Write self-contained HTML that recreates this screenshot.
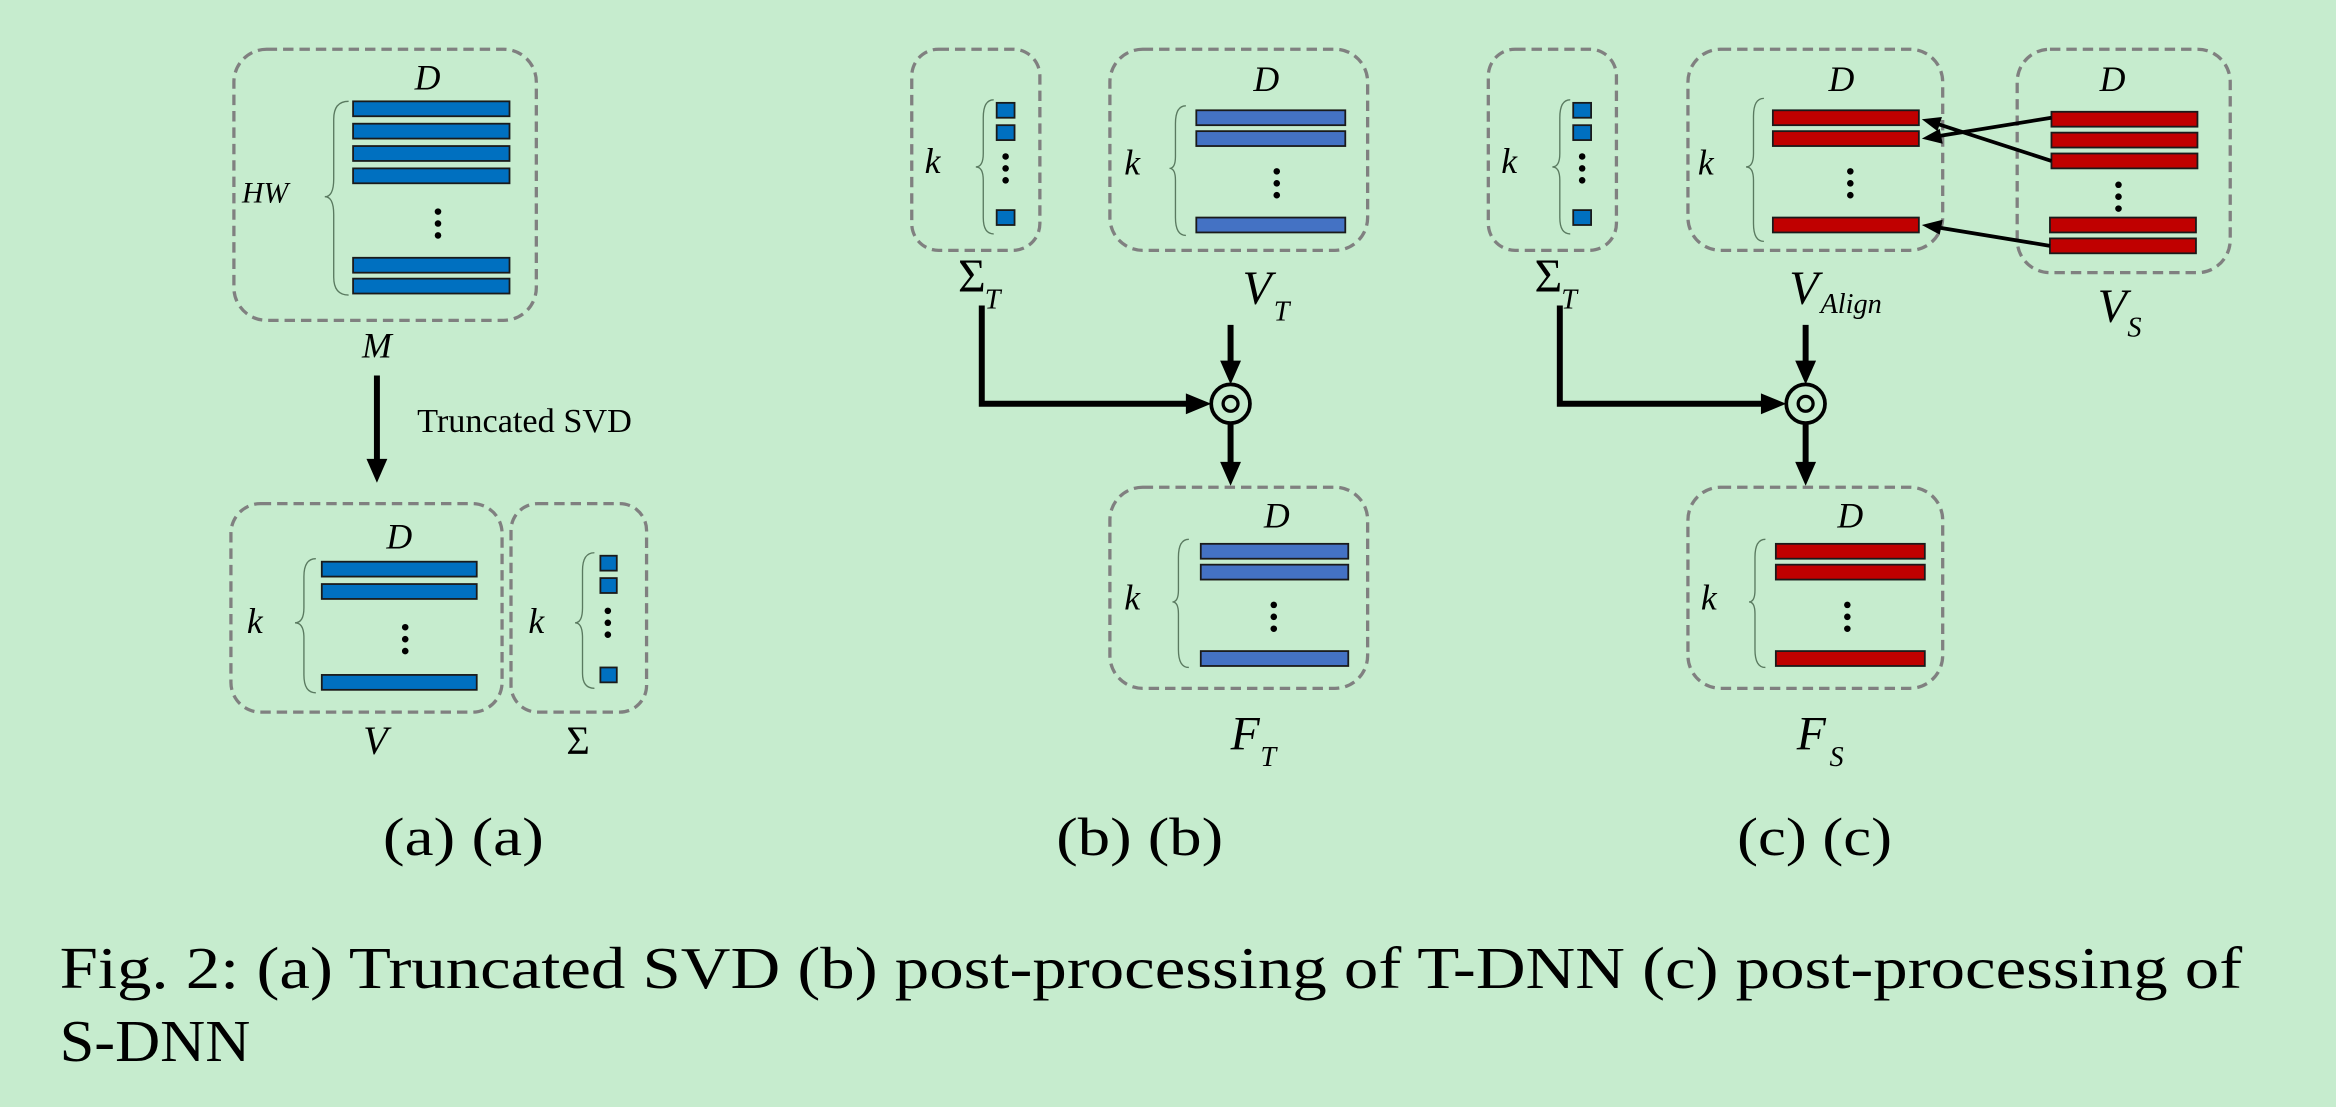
<!DOCTYPE html>
<html><head><meta charset="utf-8"><style>
html,body{margin:0;padding:0;background:#c6ecce;}
svg{display:block;}
text{font-family:"Liberation Serif",serif;fill:#000;}
.it{font-style:italic;}
.box{fill:none;stroke:#808080;stroke-width:2.2;stroke-dasharray:7,4;}
.b1{fill:#0070c0;stroke:#1a1a1a;stroke-width:1.2;}
.b2{fill:#4472c4;stroke:#1a1a1a;stroke-width:1.2;}
.r{fill:#c00000;stroke:#1a1a1a;stroke-width:1.2;}
.br{fill:none;stroke:#5a7a60;stroke-width:0.9;}
.ln{fill:none;stroke:#000;stroke-width:4;}
.thin{fill:none;stroke:#000;stroke-width:2.5;}
</style></head><body>
<svg width="2336" height="1107" viewBox="0 0 1568 743" xmlns="http://www.w3.org/2000/svg">
<rect width="1568" height="743" fill="#c6ecce"/>

<!-- Panel (a) -->
<rect class="box" x="157" y="33" width="203" height="182" rx="22"/>
<text class="it" x="287" y="60" font-size="24" text-anchor="middle">D</text>
<text class="it" x="178" y="136" font-size="20" text-anchor="middle">HW</text>
<path class="br" d="M234,68 Q224,68 224,80 L224,120 Q224,132 218,132 Q224,132 224,144 L224,186 Q224,198 234,198"/>
<rect class="b1" x="237" y="68" width="105" height="10"/>
<rect class="b1" x="237" y="83" width="105" height="10"/>
<rect class="b1" x="237" y="98" width="105" height="10"/>
<rect class="b1" x="237" y="113" width="105" height="10"/>
<circle cx="294" cy="142" r="2.2"/><circle cx="294" cy="150" r="2.2"/><circle cx="294" cy="158" r="2.2"/>
<rect class="b1" x="237" y="173" width="105" height="10"/>
<rect class="b1" x="237" y="187" width="105" height="10"/>
<text class="it" x="253" y="240" font-size="24" text-anchor="middle">M</text>
<line class="ln" x1="253" y1="252" x2="253" y2="310"/>
<polygon points="246,308 260,308 253,324"/>
<text x="280" y="290" font-size="23">Truncated SVD</text>

<rect class="box" x="155" y="338" width="182" height="140" rx="20"/>
<text class="it" x="268" y="368" font-size="24" text-anchor="middle">D</text>
<text class="it" x="171" y="425" font-size="24" text-anchor="middle">k</text>
<path class="br" d="M212,375 Q204,375 204,387 L204,408 Q204,418 198,418 Q204,418 204,428 L204,453 Q204,465 212,465"/>
<rect class="b1" x="216" y="377" width="104" height="10"/>
<rect class="b1" x="216" y="392" width="104" height="10"/>
<circle cx="272" cy="421" r="2.2"/><circle cx="272" cy="429" r="2.2"/><circle cx="272" cy="437" r="2.2"/>
<rect class="b1" x="216" y="453" width="104" height="10"/>
<text class="it" x="252" y="506" font-size="27" text-anchor="middle">V</text>

<rect class="box" x="343" y="338" width="91" height="140" rx="18"/>
<text class="it" x="360" y="425" font-size="24" text-anchor="middle">k</text>
<path class="br" d="M399,371 Q391,371 391,383 L391,408 Q391,418 386,418 Q391,418 391,428 L391,452 Q391,462 399,462"/>
<rect class="b1" x="403" y="373" width="11" height="10"/>
<rect class="b1" x="403" y="388" width="11" height="10"/>
<circle cx="408" cy="410" r="2.2"/><circle cx="408" cy="418" r="2.2"/><circle cx="408" cy="426" r="2.2"/>
<rect class="b1" x="403" y="448" width="11" height="10"/>
<text x="388" y="506" font-size="27" text-anchor="middle">Σ</text>
<text x="257" y="574" font-size="36" textLength="108" lengthAdjust="spacingAndGlyphs">(a) (a)</text>

<!-- Panel (b) -->
<rect class="box" x="612" y="33" width="86" height="135" rx="18"/>
<text class="it" x="626" y="116" font-size="24" text-anchor="middle">k</text>
<path class="br" d="M667,67 Q660,67 660,79 L660,103 Q660,112 655,112 Q660,112 660,121 L660,146 Q660,157 667,157"/>
<rect class="b1" x="669" y="69" width="12" height="10"/>
<rect class="b1" x="669" y="84" width="12" height="10"/>
<circle cx="675" cy="105" r="2.2"/><circle cx="675" cy="113" r="2.2"/><circle cx="675" cy="121" r="2.2"/>
<rect class="b1" x="669" y="141" width="12" height="10"/>
<text x="643" y="196" font-size="32">Σ</text><text class="it" x="661" y="207" font-size="19">T</text>

<rect class="box" x="745" y="33" width="173" height="135" rx="22"/>
<text class="it" x="850" y="61" font-size="24" text-anchor="middle">D</text>
<text class="it" x="760" y="117" font-size="24" text-anchor="middle">k</text>
<path class="br" d="M796,71 Q789,71 789,83 L789,105 Q789,113 785,113 Q789,113 789,121 L789,146 Q789,158 796,158"/>
<rect class="b2" x="803" y="74" width="100" height="10"/>
<rect class="b2" x="803" y="88" width="100" height="10"/>
<circle cx="857" cy="115" r="2.2"/><circle cx="857" cy="123" r="2.2"/><circle cx="857" cy="131" r="2.2"/>
<rect class="b2" x="803" y="146" width="100" height="10"/>
<text class="it" x="834" y="204" font-size="32">V</text><text class="it" x="855" y="215" font-size="19">T</text>

<polyline class="ln" points="659,205 659,271 798,271"/>
<polygon points="796,264 796,278 813,271"/>
<line class="ln" x1="826" y1="218" x2="826" y2="244"/>
<polygon points="819,242 833,242 826,258"/>
<circle cx="826" cy="271" r="13" fill="none" stroke="#000" stroke-width="2.5"/>
<circle cx="826" cy="271" r="5" fill="none" stroke="#000" stroke-width="2.2"/>
<line class="ln" x1="826" y1="284" x2="826" y2="312"/>
<polygon points="819,310 833,310 826,326"/>

<rect class="box" x="745" y="327" width="173" height="135" rx="22"/>
<text class="it" x="857" y="354" font-size="24" text-anchor="middle">D</text>
<text class="it" x="760" y="409" font-size="24" text-anchor="middle">k</text>
<path class="br" d="M798,362 Q791,362 791,374 L791,396 Q791,404 787,404 Q791,404 791,412 L791,436 Q791,448 798,448"/>
<rect class="b2" x="806" y="365" width="99" height="10"/>
<rect class="b2" x="806" y="379" width="99" height="10"/>
<circle cx="855" cy="406" r="2.2"/><circle cx="855" cy="414" r="2.2"/><circle cx="855" cy="422" r="2.2"/>
<rect class="b2" x="806" y="437" width="99" height="10"/>
<text class="it" x="826" y="503" font-size="32">F</text><text class="it" x="846" y="514" font-size="19">T</text>
<text x="709" y="574" font-size="36" textLength="112" lengthAdjust="spacingAndGlyphs">(b) (b)</text>

<!-- Panel (c) -->
<rect class="box" x="999" y="33" width="86" height="135" rx="18"/>
<text class="it" x="1013" y="116" font-size="24" text-anchor="middle">k</text>
<path class="br" d="M1054,67 Q1047,67 1047,79 L1047,103 Q1047,112 1042,112 Q1047,112 1047,121 L1047,146 Q1047,157 1054,157"/>
<rect class="b1" x="1056" y="69" width="12" height="10"/>
<rect class="b1" x="1056" y="84" width="12" height="10"/>
<circle cx="1062" cy="105" r="2.2"/><circle cx="1062" cy="113" r="2.2"/><circle cx="1062" cy="121" r="2.2"/>
<rect class="b1" x="1056" y="141" width="12" height="10"/>
<text x="1030" y="196" font-size="32">Σ</text><text class="it" x="1048" y="207" font-size="19">T</text>

<rect class="box" x="1133" y="33" width="171" height="135" rx="22"/>
<text class="it" x="1236" y="61" font-size="24" text-anchor="middle">D</text>
<text class="it" x="1145" y="117" font-size="24" text-anchor="middle">k</text>
<path class="br" d="M1184,66 Q1177,66 1177,78 L1177,103 Q1177,112 1172,112 Q1177,112 1177,121 L1177,150 Q1177,162 1184,162"/>
<rect class="r" x="1190" y="74" width="98" height="10"/>
<rect class="r" x="1190" y="88" width="98" height="10"/>
<circle cx="1242" cy="115" r="2.2"/><circle cx="1242" cy="123" r="2.2"/><circle cx="1242" cy="131" r="2.2"/>
<rect class="r" x="1190" y="146" width="98" height="10"/>
<text class="it" x="1201" y="204" font-size="32">V</text><text class="it" x="1222" y="210" font-size="19">Align</text>

<rect class="box" x="1354" y="33" width="143" height="150" rx="22"/>
<text class="it" x="1418" y="61" font-size="24" text-anchor="middle">D</text>
<rect class="r" x="1377" y="75" width="98" height="10"/>
<rect class="r" x="1377" y="89" width="98" height="10"/>
<rect class="r" x="1377" y="103" width="98" height="10"/>
<circle cx="1422" cy="124" r="2.2"/><circle cx="1422" cy="132" r="2.2"/><circle cx="1422" cy="140" r="2.2"/>
<rect class="r" x="1376" y="146" width="98" height="10"/>
<rect class="r" x="1376" y="160" width="98" height="10"/>
<text class="it" x="1408" y="216" font-size="32">V</text><text class="it" x="1428" y="226" font-size="19">S</text>

<line class="thin" x1="1377" y1="79" x2="1300" y2="91.5"/>
<polygon points="1290,93 1302,86.5 1304,96.5"/>
<line class="thin" x1="1377" y1="108" x2="1300" y2="83"/>
<polygon points="1290,80 1303.5,78.5 1300.5,88"/>
<line class="thin" x1="1376" y1="165" x2="1300" y2="152.5"/>
<polygon points="1290,151 1304,147.5 1302,157.5"/>

<polyline class="ln" points="1047,205 1047,271 1184,271"/>
<polygon points="1182,264 1182,278 1199,271"/>
<line class="ln" x1="1212" y1="218" x2="1212" y2="244"/>
<polygon points="1205,242 1219,242 1212,258"/>
<circle cx="1212" cy="271" r="13" fill="none" stroke="#000" stroke-width="2.5"/>
<circle cx="1212" cy="271" r="5" fill="none" stroke="#000" stroke-width="2.2"/>
<line class="ln" x1="1212" y1="284" x2="1212" y2="312"/>
<polygon points="1205,310 1219,310 1212,326"/>

<rect class="box" x="1133" y="327" width="171" height="135" rx="22"/>
<text class="it" x="1242" y="354" font-size="24" text-anchor="middle">D</text>
<text class="it" x="1147" y="409" font-size="24" text-anchor="middle">k</text>
<path class="br" d="M1185,362 Q1178,362 1178,374 L1178,396 Q1178,404 1174,404 Q1178,404 1178,412 L1178,436 Q1178,448 1185,448"/>
<rect class="r" x="1192" y="365" width="100" height="10"/>
<rect class="r" x="1192" y="379" width="100" height="10"/>
<circle cx="1240" cy="406" r="2.2"/><circle cx="1240" cy="414" r="2.2"/><circle cx="1240" cy="422" r="2.2"/>
<rect class="r" x="1192" y="437" width="100" height="10"/>
<text class="it" x="1206" y="503" font-size="32">F</text><text class="it" x="1228" y="514" font-size="19">S</text>
<text x="1166" y="574" font-size="36" textLength="104" lengthAdjust="spacingAndGlyphs">(c) (c)</text>

<text x="40" y="663" font-size="40" textLength="1465" lengthAdjust="spacingAndGlyphs">Fig. 2: (a) Truncated SVD (b) post-processing of T-DNN (c) post-processing of</text>
<text x="40" y="712" font-size="40" textLength="128" lengthAdjust="spacingAndGlyphs">S-DNN</text>
</svg>
</body></html>
